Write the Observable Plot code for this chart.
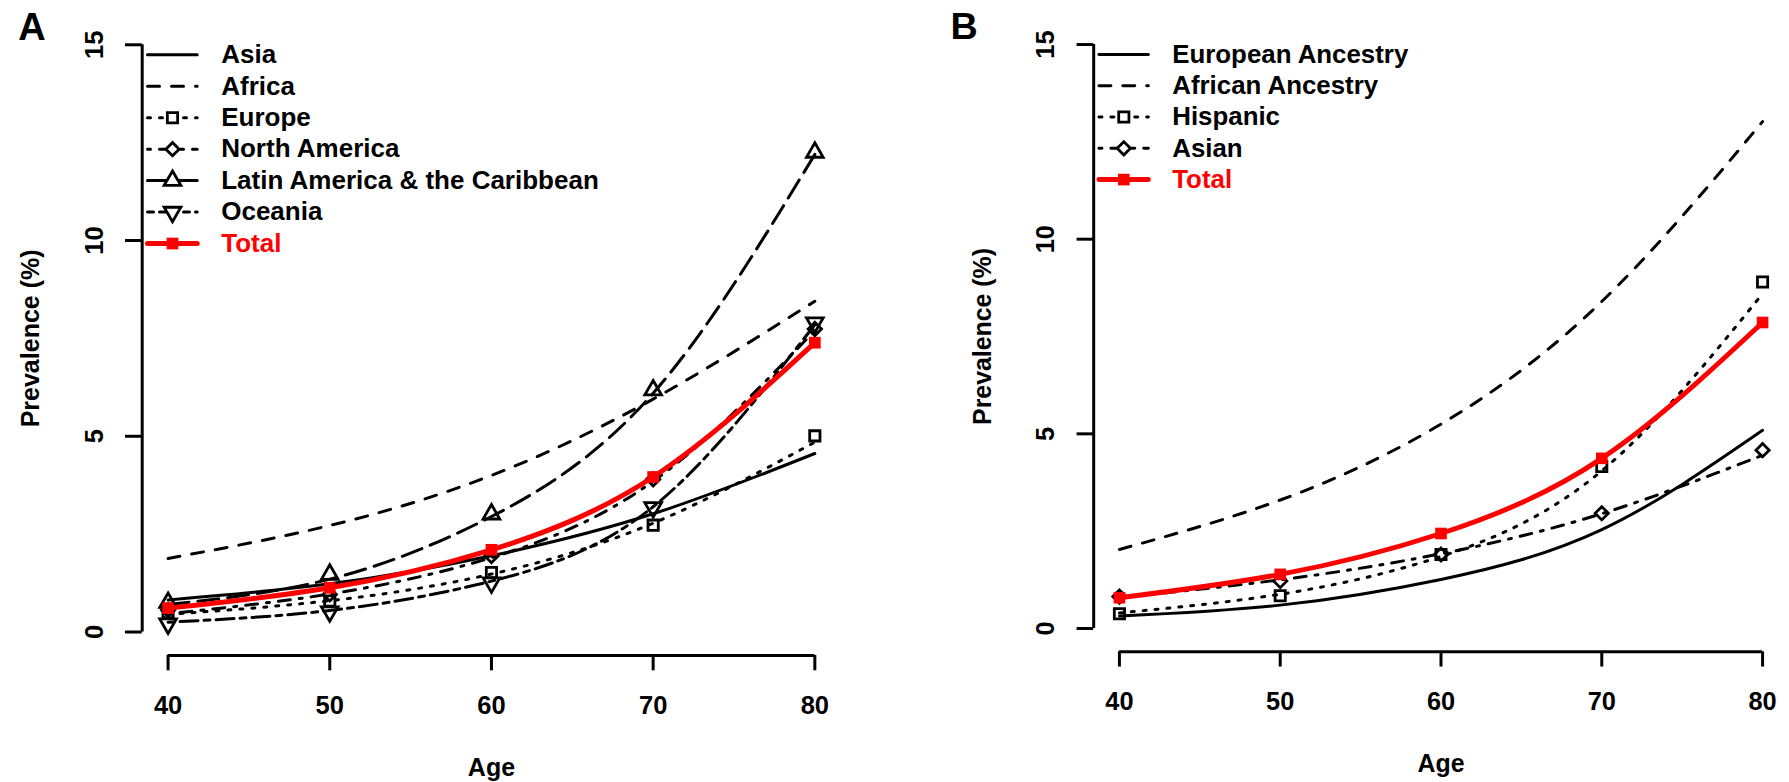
<!DOCTYPE html>
<html><head><meta charset="utf-8">
<script src="https://cdn.jsdelivr.net/npm/d3@7"></script>
<script src="https://cdn.jsdelivr.net/npm/@observablehq/plot@0.6"></script>
<style>
html,body{margin:0;padding:0;background:#fff;overflow:hidden;width:1789px;height:782px;}
#wrap{position:relative;width:1789px;height:782px;overflow:hidden;}
#a{position:absolute;left:0;top:0;}
#b{position:absolute;left:894px;top:0;}
</style></head><body><div id="wrap"><div id="a"></div><div id="b"></div></div>
<script>
// ---------- data ----------
const ages = [40, 50, 60, 70, 80];
const yTicks = [0, 5, 10, 15];

// Panel A (regions): fitted curves and observed points
const asiaLine       = [0.82, 1.23, 1.95, 3.02, 4.56];
const africaLine     = [1.88, 2.72, 4.00, 5.95, 8.45];
const europeLine     = [0.45, 0.80, 1.48, 2.78, 4.85];
const europePts      = [0.50, 0.79, 1.52, 2.73, 5.01];
const nAmericaLine   = [0.47, 0.97, 1.90, 3.85, 7.70];
const nAmericaPts    = [0.56, 0.96, 1.94, 3.90, 7.74];
const latinLine      = [0.70, 1.35, 2.95, 6.10, 12.20];
const latinPts       = [0.75, 1.47, 3.01, 6.18, 12.25];
const oceaniaLine    = [0.25, 0.55, 1.30, 3.20, 7.85];
const oceaniaPts     = [0.21, 0.52, 1.26, 3.18, 7.90];
const totalA         = [0.61, 1.13, 2.10, 3.96, 7.39];

// Panel B (ancestry)
const europeanLine   = [0.32, 0.60, 1.26, 2.54, 5.09];
const africanLine    = [2.03, 3.30, 5.25, 8.40, 13.02];
const hispanicLine   = [0.40, 0.88, 1.85, 4.05, 8.60];
const hispanicPts    = [0.38, 0.84, 1.90, 4.16, 8.90];
const asianLine      = [0.80, 1.25, 1.92, 2.95, 4.45];
const asianPts       = [0.82, 1.22, 1.90, 2.96, 4.58];
const totalB         = [0.79, 1.39, 2.44, 4.37, 7.86];

const namesA = ["Asia", "Africa", "Europe", "North America", "Latin America & the Caribbean", "Oceania", "Total"];
const namesB = ["European Ancestry", "African Ancestry", "Hispanic", "Asian", "Total"];

// ---------- styles ----------
const LTY = {
  solid: null, dashed: "12,12", dotted: "3,9", dotdash: "3,9,12,9", longdash: "21,9", twodash: "6,6,18,6"
};
const FONT = "'Liberation Sans', Arial, Helvetica, sans-serif";
const xDomain = [38.4, 81.6];
const yDomain = [-0.6, 15.6];
const innerW = 698.5, innerH = 634.2;
const kx = innerW / (xDomain[1] - xDomain[0]);
const ky = innerH / (yDomain[1] - yDomain[0]);
const fx = p => xDomain[0] + p / kx;   // pixel offset from frame left -> data x (legend only)
const fy = p => yDomain[1] - p / ky;   // pixel offset from frame top -> data y (legend only)

const rows = arr => ages.map((a, i) => ({age: a, v: arr[i]}));
const LW = 3;

function seriesMarks(s) {
  const m = [];
  m.push(Plot.line(rows(s.line), {x: "age", y: "v", curve: "natural",
    stroke: s.color, strokeWidth: s.width, strokeDasharray: s.dash, strokeLinecap: "round", strokeLinejoin: "round"}));
  if (s.pts) {
    m.push(Plot.dot(rows(s.pts), {x: "age", y: "v", symbol: s.symbol, r: s.r, rotate: s.rotate || 0,
      stroke: s.filled ? "none" : s.color, fill: s.filled ? s.color : "none", strokeWidth: 2.8}));
  }
  return m;
}

function legendMarks(series) {
  const m = [];
  series.forEach((s, k) => {
    const yy = fy(33.5 + 31.45 * k);
    m.push(Plot.line([{x: fx(5.3), y: yy}, {x: fx(55), y: yy}], {x: "x", y: "y",
      stroke: s.color, strokeWidth: s.width, strokeDasharray: s.dash, strokeLinecap: "round"}));
    if (s.pts) {
      m.push(Plot.dot([{x: fx(30.3), y: yy}], {x: "x", y: "y", symbol: s.symbol, r: s.r, rotate: s.rotate || 0,
        stroke: s.filled ? "none" : s.color, fill: s.filled ? s.color : "white", strokeWidth: 2.8}));
    }
    m.push(Plot.text([s.name], {x: fx(79), y: yy, text: d => d, textAnchor: "start", lineAnchor: "middle",
      fill: s.color, fontSize: 26, fontWeight: "bold"}));
  });
  return m;
}

function panel(opts) {
  const {series, letter, letterDx, width, marginLeft, marginRight} = opts;
  return Plot.plot({
    width, height: 782,
    marginLeft, marginRight, marginTop: 20.8, marginBottom: 127,
    x: {domain: xDomain},
    y: {domain: yDomain},
    style: {fontFamily: FONT, fontSize: "25px", fontWeight: "bold", background: "white", color: "black"},
    marks: [
      // axis lines
      Plot.ruleX([xDomain[0]], {y1: yTicks[0], y2: yTicks[yTicks.length - 1], strokeWidth: 3}),
      Plot.ruleY([yDomain[0]], {x1: ages[0], x2: ages[ages.length - 1], strokeWidth: 3}),
      Plot.axisY({ticks: yTicks, tickSize: 16.7, tickFormat: () => "", strokeWidth: 3, label: null}),
      Plot.axisX({ticks: ages, tickSize: 15.3, tickPadding: 24.7, strokeWidth: 3, label: null,
        fontSize: 25.5, fontWeight: "bold"}),
      Plot.text(yTicks, {y: d => d, text: d => String(d), frameAnchor: "left", textAnchor: "middle",
        lineAnchor: "middle", dx: -47.7, rotate: -90, fontSize: 25.5, fontWeight: "bold"}),
      Plot.text(["Prevalence (%)"], {frameAnchor: "left", textAnchor: "middle", lineAnchor: "middle",
        dx: -110.8, rotate: -90, text: d => d, fontSize: 25, fontWeight: "bold"}),
      Plot.text(["Age"], {frameAnchor: "bottom", textAnchor: "middle", lineAnchor: "middle", dy: 112.5,
        text: d => d, fontSize: 25, fontWeight: "bold"}),
      Plot.text([letter], {frameAnchor: "top-left", textAnchor: "middle", lineAnchor: "middle",
        dx: letterDx, dy: 6.2, text: d => d, fontSize: 38, fontWeight: "bold"}),
      ...series.flatMap(seriesMarks),
      ...legendMarks(series)
    ]
  });
}

const seriesA = [
  {name: namesA[0], line: asiaLine, dash: LTY.solid, color: "black", width: LW},
  {name: namesA[1], line: africaLine, dash: LTY.dashed, color: "black", width: LW},
  {name: namesA[2], line: europeLine, pts: europePts, dash: LTY.dotted, symbol: "square", r: 5.8, color: "black", width: LW},
  {name: namesA[3], line: nAmericaLine, pts: nAmericaPts, dash: LTY.dotdash, symbol: "diamond2", r: 6.0, color: "black", width: LW},
  {name: namesA[4], line: latinLine, pts: latinPts, dash: LTY.longdash, symbol: "triangle", r: 6.2, color: "black", width: LW},
  {name: namesA[5], line: oceaniaLine, pts: oceaniaPts, dash: LTY.twodash, symbol: "triangle", rotate: 180, r: 6.2, color: "black", width: LW},
  {name: namesA[6], line: totalA, pts: totalA, dash: LTY.solid, symbol: "square", r: 6.6, filled: true, color: "red", width: 5}
];
const seriesB = [
  {name: namesB[0], line: europeanLine, dash: LTY.solid, color: "black", width: LW},
  {name: namesB[1], line: africanLine, dash: LTY.dashed, color: "black", width: LW},
  {name: namesB[2], line: hispanicLine, pts: hispanicPts, dash: LTY.dotted, symbol: "square", r: 5.8, color: "black", width: LW},
  {name: namesB[3], line: asianLine, pts: asianPts, dash: LTY.dotdash, symbol: "diamond2", r: 6.0, color: "black", width: LW},
  {name: namesB[4], line: totalB, pts: totalB, dash: LTY.solid, symbol: "square", r: 6.6, filled: true, color: "red", width: 5}
];

document.getElementById("a").append(panel({series: seriesA, letter: "A", letterDx: -110.2, width: 894, marginLeft: 141.7, marginRight: 53.8}));
document.getElementById("b").append(panel({series: seriesB, letter: "B", letterDx: -130.3, width: 900, marginLeft: 200.3, marginRight: 1.2}));
</script></body></html>
